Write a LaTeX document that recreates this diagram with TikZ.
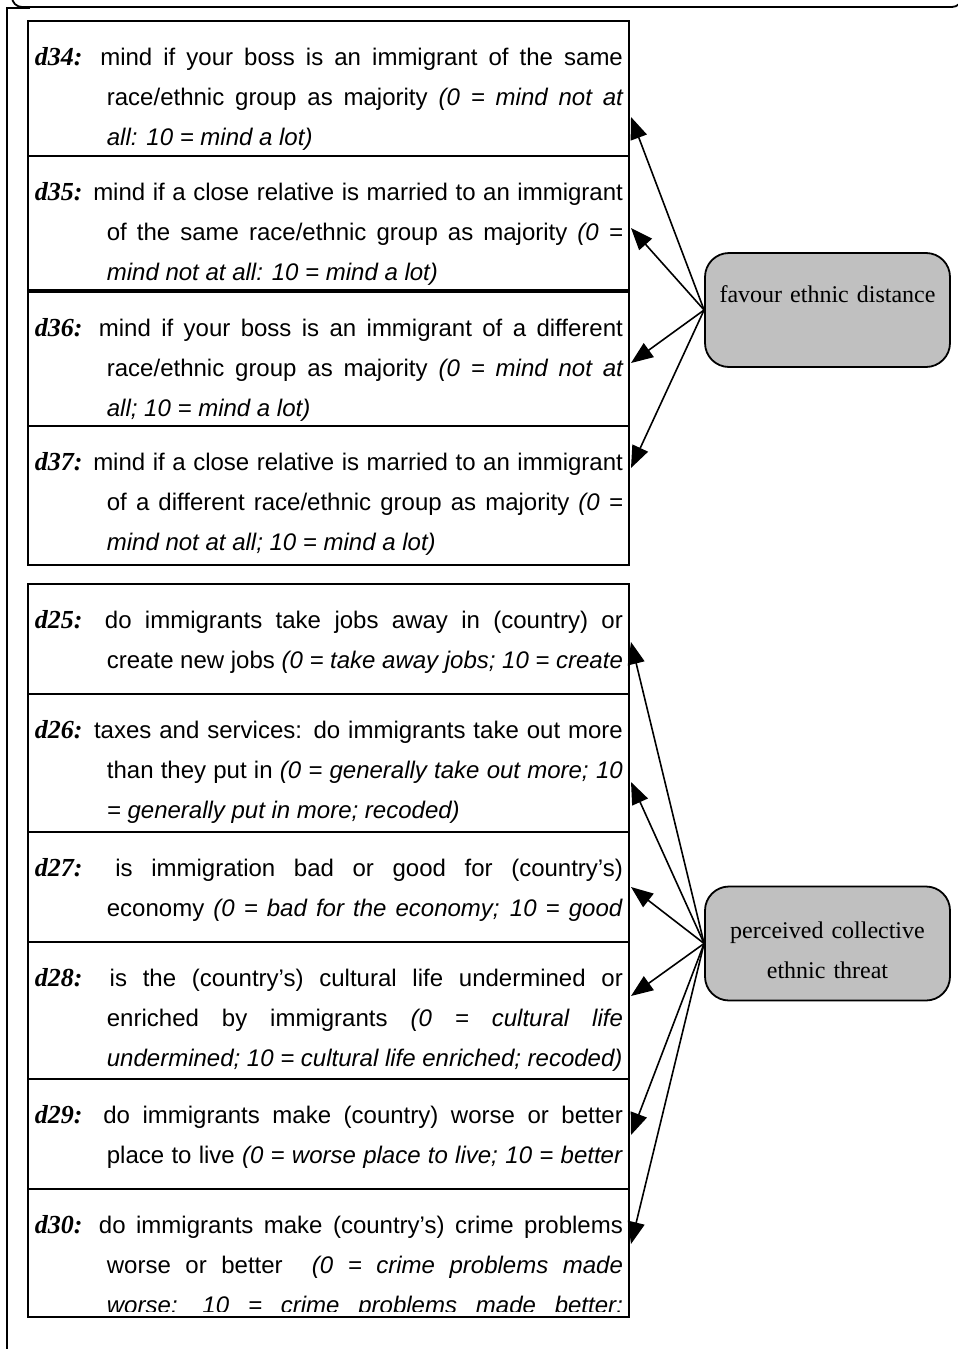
\documentclass[tikz,border=0pt]{standalone}
\usepackage{fontspec}
\setmainfont{Liberation Serif}
\setsansfont{Liberation Sans}
\usepackage{tikz}
\usetikzlibrary{arrows.meta}
\definecolor{Shade}{HTML}{C0C0C0}

\begin{document}
\begin{tikzpicture}[x=0.5pt,y=-0.5pt,line width=0.9pt,
  itembox/.style={draw,rectangle,minimum width=300.5pt,inner sep=0pt,outer sep=0pt,anchor=north west},
  itemtext/.style={anchor=base west,inner sep=0pt,text width=294pt,align=justify,font=\sffamily\fontsize{12}{20}\selectfont},
  factor/.style={draw,fill=Shade,rounded corners=12pt,minimum width=122.5pt,minimum height=57pt,text width=115pt,align=center,inner sep=0pt,font=\rmfamily\fontsize{12}{20}\selectfont},
  link/.style={line width=0.8pt,-{Triangle[length=11pt,width=8.5pt]}}]
\useasboundingbox (0,0) rectangle (958,1349);
% frame
\draw[rounded corners=5pt] (12,-10) -- (12,7) -- (962,7) -- (962,-10);
\draw (30,8) -- (7,8) -- (7,1360);
% indicator boxes
\foreach \n/\ya/\yb/\yt/\txt in {
  34/21/156/117/{mind if your boss is an immigrant of the same\linebreak race/ethnic group as majority \textit{(0 = mind not at\linebreak all: 10 = mind a lot)}},
  35/156/290/228/{mind if a close relative is married to an immigrant\linebreak of the same race/ethnic group as majority \textit{(0 =\linebreak mind not at all: 10 = mind a lot)}},
  36/292/426/363/{mind if your boss is an immigrant of a different\linebreak race/ethnic group as majority \textit{(0 = mind not at\linebreak all; 10 = mind a lot)}},
  37/426/565/468/{mind if a close relative is married to an immigrant\linebreak of a different race/ethnic group as majority \textit{(0 =\linebreak mind not at all; 10 = mind a lot)}},
  25/584/694/642/{do immigrants take jobs away in (country) or\linebreak create new jobs \textit{(0 = take away jobs; 10 = create\linebreak}},
  26/694/832/782/{taxes and services: do immigrants take out more\linebreak than they put in \textit{(0 = generally take out more; 10\linebreak = generally put in more; recoded)}},
  27/832/942/887/{is immigration bad or good for (country’s)\linebreak economy \textit{(0 = bad for the economy; 10 = good\linebreak}},
  28/942/1079/996/{is the (country’s) cultural life undermined or\linebreak enriched by immigrants \textit{(0 = cultural life\linebreak undermined; 10 = cultural life enriched; recoded)}},
  29/1079/1189/1135/{do immigrants make (country) worse or better\linebreak place to live \textit{(0 = worse place to live; 10 = better\linebreak}},
  30/1189/1317/1244/{do immigrants make (country’s) crime problems\linebreak worse or better \ \textit{(0 = crime problems made\linebreak worse; 10 = crime problems made better;\linebreak}}}{
  \pgfmathsetmacro\h{(\yb-\ya)/2}
  \node[itembox,minimum height=\h pt] (d\n) at (28,\ya) {};
  \coordinate (a\n) at (631,\yt);
  \begin{scope}
    \clip (d\n.north west) rectangle ([yshift=3pt]d\n.south east);
    \node[itemtext] (t\n) at (34,\ya+44) {\tolerance=10000\hangindent=36pt\hangafter=1{\rmfamily\bfseries\itshape\fontsize{13}{20}\selectfont d\n:} \txt\par};
  \end{scope}
}
% latent factors
\node[factor,text height=8pt,text depth=16pt] (fed) at (827.5,310) {favour ethnic distance};
\node[factor,text height=8pt,text depth=13.5pt] (thr) at (827.5,943.5) {perceived collective\\ethnic threat};
\foreach \n in {34,35,36,37}{\draw[link] (fed.west) -- (a\n);}
\foreach \n in {25,...,30}{\draw[link] (thr.west) -- (a\n);}
\end{tikzpicture}
\end{document}
